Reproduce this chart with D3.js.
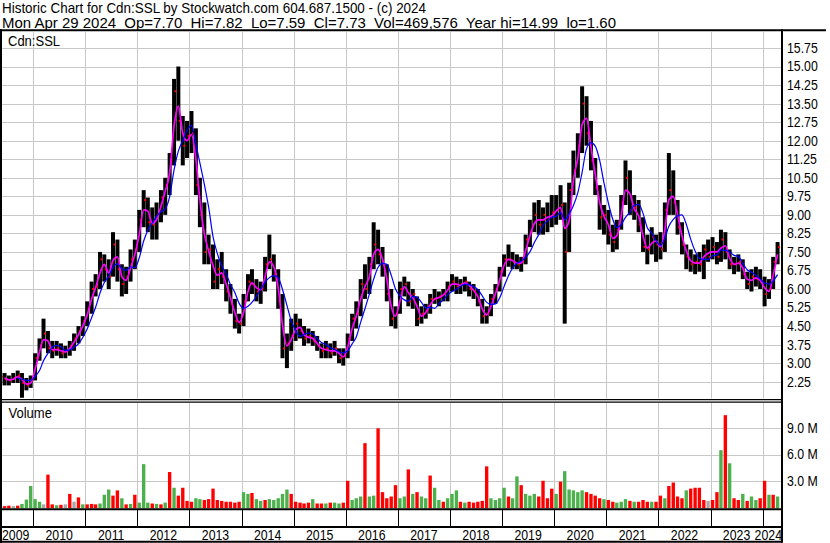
<!DOCTYPE html>
<html>
<head>
<meta charset="utf-8">
<script src="https://cdn.jsdelivr.net/npm/d3@7"></script>
<style>
  body { margin: 0; background: #fff; }
  svg text { font-family: "Liberation Sans", Arial, sans-serif; fill: #000; white-space: pre; }
</style>
</head>
<body>
<div id="chart"></div>
<script>
(function(){

  // header lines
  var title = "Historic Chart for Cdn:SSL by Stockwatch.com 604.687.1500 - (c) 2024"
  var quote = "Mon Apr 29 2024  Op=7.70  Hi=7.82  Lo=7.59  Cl=7.73  Vol=469,576  Year hi=14.99  lo=1.60"
  var symbol = "Cdn:SSL"

  // year labels along the bottom
  var years = [2009, 2010, 2011, 2012, 2013, 2014, 2015, 2016, 2017, 2018, 2019, 2020, 2021, 2022, 2023, 2024]

  // right axis labels
  var priceTicks = ["2.25", "3.00", "3.75", "4.50", "5.25", "6.00", "6.75", "7.50", "8.25", "9.00",
    "9.75", "10.50", "11.25", "12.00", "12.75", "13.50", "14.25", "15.00", "15.75"]
  var volTicks = [3, 6, 9]
  var volTickLabels = ["3.0 M", "6.0 M", "9.0 M"]

  // monthly bars, May 2009 .. Apr 2024
  var highs = [
    2.7, 2.6, 2.5, 2.6, 2.7, 2.6, 2.4, 2.5,
    3.4, 4.0, 4.8, 4.3, 3.9, 3.9, 3.8, 3.7, 3.9, 4.2, 4.5, 4.9,
    5.5, 6.3, 6.6, 7.5, 7.4, 7.2, 8.3, 8.0, 7.0, 6.9, 7.6, 8.0,
    9.2, 10.0, 9.7, 9.3, 9.5, 10.0, 10.5, 11.5, 14.5, 15.0, 13.0, 12.8,
    13.2, 12.5, 10.5, 9.5, 8.2, 7.8, 7.2, 7.5, 6.8, 6.2, 5.6, 5.0,
    5.8, 6.6, 6.8, 6.4, 6.3, 7.3, 8.2, 7.4, 6.8, 5.8, 4.2, 4.8,
    5.0, 4.8, 4.5, 4.4, 4.3, 4.1, 3.8, 3.9, 3.8, 3.9, 3.6, 3.6,
    4.2, 5.0, 5.5, 6.4, 7.0, 7.3, 8.7, 8.4, 7.7, 7.0, 6.0, 5.3,
    6.3, 6.5, 6.3, 6.0, 5.7, 5.3, 5.4, 5.8, 6.0, 5.9, 6.0, 6.3,
    6.6, 6.5, 6.4, 6.5, 6.3, 6.2, 6.0, 5.6, 5.3, 5.8, 6.2, 6.9,
    7.4, 7.8, 7.5, 7.4, 7.3, 8.2, 8.8, 9.5, 9.6, 9.3, 9.5, 9.8,
    9.8, 10.2, 9.5, 10.3, 11.6, 12.3, 14.2, 13.8, 12.8, 11.3, 10.2, 9.4,
    9.2, 8.6, 8.8, 9.8, 11.2, 10.8, 9.8, 9.6, 8.9, 8.2, 8.5, 8.2,
    8.3, 9.5, 11.5, 10.8, 9.6, 8.7, 7.8, 7.6, 7.4, 7.5, 7.8, 8.0,
    8.1, 7.9, 8.4, 8.3, 7.6, 7.3, 7.4, 7.2, 6.7, 6.8, 6.9, 6.8,
    6.5, 6.4, 7.3, 7.9
  ]
  var lows = [
    2.2, 2.1, 2.1, 2.2, 2.2, 1.6, 1.9, 2.0,
    2.3, 3.1, 3.6, 3.4, 3.2, 3.3, 3.2, 3.2, 3.3, 3.5, 3.8, 4.1,
    4.5, 5.0, 5.7, 6.0, 6.3, 6.0, 6.5, 6.3, 5.7, 5.8, 6.3, 6.8,
    7.5, 8.5, 8.3, 8.0, 8.0, 8.7, 9.0, 9.8, 11.0, 12.0, 11.0, 11.3,
    11.5, 9.8, 8.5, 7.0, 7.0, 6.0, 6.0, 6.2, 5.5, 5.0, 4.4, 4.2,
    4.5, 5.5, 5.8, 5.5, 5.4, 5.9, 6.8, 6.3, 5.2, 3.2, 2.8, 3.5,
    3.9, 4.0, 3.7, 3.8, 3.7, 3.5, 3.2, 3.2, 3.2, 3.3, 3.0, 2.9,
    3.2, 3.9, 4.4, 4.9, 5.6, 5.8, 6.8, 7.0, 6.5, 5.5, 4.5, 4.4,
    5.0, 5.7, 5.3, 5.2, 4.5, 4.6, 4.8, 5.0, 5.4, 5.3, 5.5, 5.5,
    5.9, 5.8, 5.8, 5.9, 5.7, 5.6, 5.3, 4.6, 4.6, 4.9, 5.4, 5.9,
    6.5, 6.9, 6.8, 6.8, 6.7, 7.0, 7.7, 8.3, 8.2, 8.2, 8.3, 8.5,
    8.6, 8.8, 4.6, 7.5, 9.8, 10.5, 11.5, 11.8, 10.8, 9.8, 8.4, 8.2,
    7.8, 7.5, 7.6, 8.4, 9.4, 9.0, 8.8, 8.3, 7.5, 7.0, 7.4, 7.1,
    7.2, 7.5, 9.0, 9.0, 8.2, 7.4, 6.8, 6.7, 6.6, 6.7, 6.4, 7.1,
    7.2, 7.0, 7.1, 7.2, 6.8, 6.6, 6.7, 6.4, 6.0, 5.9, 6.1, 6.0,
    5.3, 5.6, 6.0, 7.0
  ]
  var closes = [
    2.45, 2.35, 2.3, 2.4, 2.5, 2.2, 2.1, 2.3,
    3.2, 3.7, 4.2, 3.6, 3.5, 3.6, 3.4, 3.5, 3.7, 4.0, 4.3, 4.7,
    5.2, 6.0, 6.1, 7.2, 6.8, 6.5, 7.8, 6.8, 6.2, 6.5, 7.2, 7.6,
    8.8, 9.6, 8.7, 8.6, 9.0, 9.7, 10.2, 11.2, 14.0, 12.8, 11.8, 12.2,
    12.3, 10.2, 9.0, 7.5, 7.6, 6.3, 6.8, 6.5, 5.9, 5.4, 4.7, 4.6,
    5.5, 6.3, 6.2, 5.9, 6.0, 7.0, 7.2, 6.6, 5.5, 3.6, 3.8, 4.1,
    4.6, 4.3, 4.0, 4.1, 3.9, 3.7, 3.5, 3.6, 3.4, 3.6, 3.2, 3.3,
    4.0, 4.8, 5.0, 6.2, 6.0, 7.0, 7.8, 7.4, 7.0, 5.8, 4.8, 5.0,
    6.0, 6.2, 5.5, 5.8, 4.8, 5.0, 5.1, 5.6, 5.6, 5.7, 5.8, 6.1,
    6.3, 6.1, 6.2, 6.3, 6.0, 5.9, 5.5, 4.9, 5.0, 5.6, 6.0, 6.7,
    7.2, 7.2, 7.1, 7.0, 7.1, 8.0, 8.3, 9.0, 8.6, 9.0, 8.8, 9.1,
    9.2, 9.4, 7.5, 10.0, 10.8, 11.8, 13.5, 12.3, 11.2, 10.1, 8.9, 9.0,
    8.2, 7.9, 8.4, 9.5, 10.5, 9.2, 9.3, 8.6, 7.7, 7.6, 8.1, 7.8,
    7.6, 9.2, 10.0, 9.5, 8.5, 7.8, 7.3, 7.0, 7.1, 7.0, 7.6, 7.3,
    7.7, 7.3, 8.0, 7.5, 7.0, 7.0, 7.1, 6.6, 6.2, 6.5, 6.4, 6.3,
    5.8, 6.0, 7.1, 7.7
  ]

  // volume in millions of shares, one bar per month
  var volumes = [
    0.1, 0.1, 0.15, 0.1, 0.15, 0.35, 0.85, 2.4,
    0.9, 0.6, 0.3, 3.7, 0.3, 0.2, 0.25, 0.3, 1.5, 0.6, 1.1, 0.3,
    0.3, 0.35, 0.3, 0.4, 1.4, 2.0, 1.3, 1.9, 1.0, 0.3, 0.35, 1.4,
    0.5, 4.9, 0.5, 0.4, 0.35, 0.3, 0.5, 4.0, 2.2, 1.3, 2.2, 0.7,
    0.6, 1.0, 0.9, 0.8, 0.9, 2.1, 0.8, 0.7, 0.6, 0.6, 0.5, 0.6,
    1.7, 1.5, 1.6, 0.9, 0.7, 0.8, 0.9, 0.8, 1.0, 1.5, 2.0, 1.5,
    0.6, 0.5, 0.4, 0.5, 0.9, 0.4, 0.4, 0.4, 0.5, 0.5, 0.4, 0.5,
    3.0, 0.8, 1.0, 1.2, 7.3, 1.2, 1.3, 9.0, 1.7, 1.0, 1.2, 2.5,
    1.0, 1.2, 4.3, 1.5, 1.7, 1.2, 1.0, 3.6, 2.2, 0.8, 0.6, 1.0,
    1.5, 1.9, 0.6, 0.5, 0.6, 0.5, 0.6, 0.7, 4.65, 1.0, 0.8, 1.0,
    2.2, 1.2, 1.0, 3.5, 2.5, 1.5, 1.3, 1.5, 1.2, 3.0, 1.0, 2.1,
    1.5, 2.9, 4.1, 2.0, 1.9, 1.7, 1.9, 1.7, 1.5, 1.3, 1.0, 0.9,
    0.8, 0.6, 0.5, 0.6, 0.9, 0.7, 0.6, 0.6, 0.8, 0.6, 0.6, 0.6,
    1.3, 1.0, 2.4, 2.8, 1.2, 1.0, 1.9, 2.1, 2.2, 2.2, 0.8, 0.7,
    0.8, 1.7, 6.5, 10.5, 5.0, 1.0, 0.8, 1.5, 0.7, 1.2, 0.8, 1.0,
    3.0, 1.4, 1.4, 1.2
  ]
  // u = up (green), d = down (red), n = unchanged (gray), one letter per month
  var volDir = [
    "nddnduuu",
    "uunddudndndu",
    "ddduuuddudud",
    "uuududududdd",
    "duuddddddddd",
    "uuduuduuuuud",
    "ddddudduduud",
    "duuuduuddddd",
    "uududuuduudu",
    "uududdddduuu",
    "uduuduuudddd",
    "uduuuuuddddu",
    "dduuududddud",
    "dudddduddddn",
    "ddududduduud",
    "dudu"
  ].join("")

  var firstMonth = new Date(2009, 4, 15)
  var startDate = new Date(2009, 4, 28),
    endDate = new Date(2024, 4, 16)

  var width = 830,
    height = 543

  var left = 2, right = 782
  var priceTop = 32, priceBottom = 398.5
  var volTop = 403, volBottom = 508.5

  var svg = d3.select("#chart")
    .append("svg")
    .attr("width", width)
    .attr("height", height)

  var x = d3.scaleTime().domain([startDate, endDate]).range([left, right])
  var y = d3.scaleLinear().domain([2.25, 15.75]).range([381.7, 48])
  var yv = d3.scaleLinear().domain([0, 9]).range([507, 428.3])

  var data = closes.map(function(c, i) {
    return {
      date: d3.timeMonth.offset(firstMonth, i),
      hi: highs[i], lo: lows[i], cl: c,
      vol: volumes[i], dir: volDir[i]
    }
  })

  var yearLines = years.slice(1).map(function(yr) { return new Date(yr, 0, 1) })

  var defs = svg.append("defs")
  defs.append("clipPath").attr("id", "clipPrice").append("rect")
    .attr("x", left).attr("y", priceTop).attr("width", right - left - 1).attr("height", priceBottom - priceTop)
  defs.append("clipPath").attr("id", "clipVol").append("rect")
    .attr("x", left).attr("y", volTop).attr("width", right - left - 1).attr("height", volBottom - volTop)

  var grid = svg.append("g").attr("stroke", "#c8c8c8").attr("stroke-width", 1)

  // price grid
  grid.selectAll(".hp").data(priceTicks).enter().append("line")
    .attr("x1", left).attr("x2", right)
    .attr("y1", function(d) { return Math.round(y(+d)) + 0.5 })
    .attr("y2", function(d) { return Math.round(y(+d)) + 0.5 })
  grid.selectAll(".vp").data(yearLines).enter().append("line")
    .attr("x1", function(d) { return Math.round(x(d)) + 0.5 })
    .attr("x2", function(d) { return Math.round(x(d)) + 0.5 })
    .attr("y1", priceTop).attr("y2", priceBottom)

  // volume grid
  grid.selectAll(".hv").data(volTicks).enter().append("line")
    .attr("x1", left).attr("x2", right)
    .attr("y1", function(d) { return Math.round(yv(d)) + 0.5 })
    .attr("y2", function(d) { return Math.round(yv(d)) + 0.5 })
  grid.selectAll(".vv").data(yearLines).enter().append("line")
    .attr("x1", function(d) { return Math.round(x(d)) + 0.5 })
    .attr("x2", function(d) { return Math.round(x(d)) + 0.5 })
    .attr("y1", volTop).attr("y2", volBottom)

  var step = x(d3.timeMonth.offset(firstMonth, 1)) - x(firstMonth)

  // price bars
  var price = svg.append("g").attr("clip-path", "url(#clipPrice)")
  price.selectAll("rect.bar").data(data).enter().append("rect")
    .attr("class", "bar")
    .attr("x", function(d) { return x(d.date) - step * 0.45 })
    .attr("width", step * 0.9)
    .attr("y", function(d) { return y(d.hi) })
    .attr("height", function(d) { return y(d.lo) - y(d.hi) })
    .attr("fill", "#000")
  price.selectAll("rect.cl").data(data).enter().append("rect")
    .attr("class", "cl")
    .attr("x", function(d) { return x(d.date) + step * 0.45 - 1.5 })
    .attr("width", 2)
    .attr("y", function(d) { return y(d.cl) - 1 })
    .attr("height", 2)
    .attr("fill", "#ff0000")

  // moving averages of the monthly closes
  function movingAvg(n) {
    return data.map(function(d, i) {
      if (i < n - 1) return null
      return { date: d.date, v: d3.mean(closes.slice(i - n + 1, i + 1)) }
    }).filter(function(d) { return d })
  }
  var line = d3.line()
    .x(function(d) { return x(d.date) })
    .y(function(d) { return y(d.v) })
    .curve(d3.curveMonotoneX)
  price.append("path").datum(movingAvg(2))
    .attr("d", line).attr("fill", "none").attr("stroke", "#ff00ff").attr("stroke-width", 1.7)
  price.append("path").datum(movingAvg(5))
    .attr("d", line).attr("fill", "none").attr("stroke", "#0000ff").attr("stroke-width", 1.2)

  // volume bars
  var volColor = { u: "#4cb04c", d: "#ff0000", n: "#a8a8a8" }
  svg.append("g").attr("clip-path", "url(#clipVol)")
    .selectAll("rect").data(data).enter().append("rect")
    .attr("x", function(d) { return x(d.date) - step * 0.38 })
    .attr("width", step * 0.76)
    .attr("y", function(d) { return yv(d.vol) })
    .attr("height", function(d) { return yv(0) - yv(d.vol) + 1.5 })
    .attr("fill", function(d) { return volColor[d.dir] || "#a8a8a8" })

  // frame lines
  var frame = svg.append("g").attr("stroke", "#000").attr("fill", "none")
  frame.append("line").attr("x1", 0).attr("x2", 826).attr("y1", 30.3).attr("y2", 30.3).attr("stroke-width", 2)
  frame.append("line").attr("x1", 1).attr("x2", 1).attr("y1", 29.3).attr("y2", 543).attr("stroke-width", 2)
  frame.append("line").attr("x1", 782).attr("x2", 782).attr("y1", 29.3).attr("y2", 542.7).attr("stroke-width", 2)
  frame.append("line").attr("x1", 0).attr("x2", 782).attr("y1", 399.6).attr("y2", 399.6).attr("stroke-width", 1.3)
  frame.append("line").attr("x1", 0).attr("x2", 782).attr("y1", 402.1).attr("y2", 402.1).attr("stroke-width", 1.3)
  frame.append("line").attr("x1", 0).attr("x2", 782).attr("y1", 509.3).attr("y2", 509.3).attr("stroke-width", 2)
  frame.append("line").attr("x1", 0).attr("x2", 782).attr("y1", 527).attr("y2", 527).attr("stroke-width", 2)
  frame.append("line").attr("x1", 0).attr("x2", 782).attr("y1", 541.7).attr("y2", 541.7).attr("stroke-width", 2)
  frame.selectAll(".tk").data(yearLines).enter().append("line")
    .attr("x1", function(d) { return Math.round(x(d)) + 0.5 })
    .attr("x2", function(d) { return Math.round(x(d)) + 0.5 })
    .attr("y1", 509).attr("y2", 527).attr("stroke-width", 1)

  // header
  svg.append("text").attr("x", 2).attr("y", 12.7).attr("font-size", 15)
    .attr("textLength", 424).attr("lengthAdjust", "spacingAndGlyphs").text(title)
  svg.append("text").attr("x", 2).attr("y", 28).attr("font-size", 15)
    .attr("textLength", 614).attr("lengthAdjust", "spacingAndGlyphs").text(quote)

  var sx = 0.88

  svg.append("text").attr("transform", "translate(8,46) scale(0.93,1)")
    .attr("font-size", 14).text(symbol)
  svg.append("text").attr("transform", "translate(8.5,417.7) scale(0.93,1)")
    .attr("font-size", 14).text("Volume")

  // right axis labels
  svg.append("g").selectAll("text").data(priceTicks).enter().append("text")
    .attr("transform", function(d) { return "translate(787," + y(+d) + ") scale(" + sx + ",1)" })
    .attr("dy", "0.35em").attr("font-size", 14)
    .text(function(d) { return d })
  svg.append("g").selectAll("text").data(volTicks).enter().append("text")
    .attr("transform", function(d) { return "translate(787," + yv(d) + ") scale(" + sx + ",1)" })
    .attr("dy", "0.35em").attr("font-size", 14)
    .text(function(d, i) { return volTickLabels[i] })

  // year labels, centred in each year span and kept inside the plot
  svg.append("g").selectAll("text").data(years).enter().append("text")
    .attr("font-size", 14)
    .attr("text-anchor", "middle")
    .text(function(d) { return d })
    .attr("transform", function(d) {
      var w = this.getComputedTextLength() * sx
      var c = (x(new Date(d, 0, 1)) + x(new Date(d + 1, 0, 1))) / 2
      c = Math.max(left + w / 2, Math.min(right - w / 2, c))
      return "translate(" + c + ",540) scale(" + sx + ",1)"
    })

})()
</script>
</body>
</html>
